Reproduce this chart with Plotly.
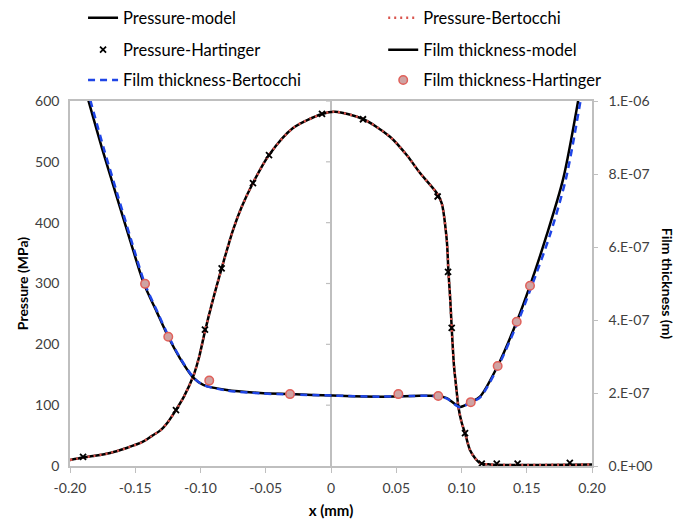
import plotly.graph_objects as go

# ---------------- data ----------------
x_ticks = [-0.20, -0.15, -0.10, -0.05, 0, 0.05, 0.10, 0.15, 0.20]
x_tick_text = ["-0.20", "-0.15", "-0.10", "-0.05", "0", "0.05", "0.10", "0.15", "0.20"]
p_ticks = [0, 100, 200, 300, 400, 500, 600]
h_ticks = [0, 2e-7, 4e-7, 6e-7, 8e-7, 1e-6]
h_tick_text = ["0.E+00", "2.E-07", "4.E-07", "6.E-07", "8.E-07", "1.E-06"]

# Pressure (MPa) - model
p_model_x = [-0.2000, -0.1900, -0.1824, -0.1693, -0.1566, -0.1441, -0.1372, -0.1310,
             -0.1249, -0.1188, -0.1126, -0.1055, -0.1011, -0.0966, -0.0904, -0.0838,
             -0.0751, -0.0684, -0.0598, -0.0475, -0.0291, -0.0069, 0.0031, 0.0245,
             0.0452, 0.0580, 0.0682, 0.0810, 0.0848, 0.0887, 0.0900, 0.0914, 0.0925,
             0.0943, 0.0962, 0.0976, 0.1000, 0.1027, 0.1065, 0.1103, 0.1142, 0.1218,
             0.2000]
p_model_y = [9.9, 14.0, 16.4, 21.4, 29.6, 39.9, 49.6, 58.1,
             72.5, 92.1, 114.4, 147.9, 178.8, 221.3, 273.9, 325.0,
             387.9, 426.2, 465.2, 511.2, 555.6, 578.6, 582.4, 570.4,
             541.3, 511.2, 481.6, 448.8, 432.3, 371.5, 318.9, 272.9, 226.8,
             163.2, 124.9, 97.5, 72.3, 54.2, 26.3, 13.2, 4.9, 2.5,
             2.5]

# Pressure - Bertocchi (lies on top of the model curve)
p_bert_x = [-0.2000, -0.1900, -0.1824, -0.1693, -0.1566, -0.1441, -0.1372, -0.1310,
            -0.1249, -0.1188, -0.1126, -0.1055, -0.1011, -0.0966, -0.0904, -0.0838,
            -0.0751, -0.0684, -0.0598, -0.0475, -0.0291, -0.0069, 0.0031, 0.0245,
            0.0452, 0.0580, 0.0682, 0.0810, 0.0848, 0.0887, 0.0900, 0.0914, 0.0925,
            0.0943, 0.0962, 0.0976, 0.1000, 0.1027, 0.1065, 0.1103, 0.1142, 0.1218,
            0.2000]
p_bert_y = [9.9, 14.0, 16.4, 21.4, 29.6, 39.9, 49.6, 58.1,
            72.5, 92.1, 114.4, 147.9, 178.8, 221.3, 273.9, 325.0,
            387.9, 426.2, 465.2, 511.2, 555.6, 578.6, 582.4, 570.4,
            541.3, 511.2, 481.6, 448.8, 432.3, 371.5, 318.9, 272.9, 226.8,
            163.2, 124.9, 97.5, 72.3, 54.2, 26.3, 13.2, 4.9, 2.5,
            2.5]

# Pressure - Hartinger (markers)
p_hart_x = [-0.190, -0.1188, -0.0966, -0.0838, -0.0598, -0.0475, -0.0069, 0.0245,
            0.0817, 0.0897, 0.0925, 0.1027, 0.1155, 0.127, 0.143, 0.183]
p_hart_y = [15, 92, 224, 325, 465, 511, 579, 570,
            443, 319, 227, 54, 4, 4, 4, 5]

# Film thickness (m) - model
h_model_x = [-0.1860, -0.1755, -0.1648, -0.1540, -0.1433, -0.1336, -0.1247, -0.1157,
             -0.1055, -0.0979, -0.0799, -0.0544, -0.0314, 0.0015, 0.0375, 0.0628,
             0.0822, 0.0887, 0.0989, 0.1071, 0.1142, 0.1277, 0.1423, 0.1525, 0.1653,
             0.1780, 0.1895]
h_model_y = [10.03e-7, 8.71e-7, 7.45e-7, 6.19e-7, 4.99e-7, 4.23e-7, 3.54e-7, 2.95e-7,
             2.42e-7, 2.22e-7, 2.08e-7, 2.00e-7, 1.97e-7, 1.93e-7, 1.90e-7, 1.92e-7,
             1.92e-7, 1.86e-7, 1.62e-7, 1.75e-7, 1.90e-7, 2.74e-7, 3.95e-7, 4.94e-7,
             6.33e-7, 7.88e-7, 10.03e-7]

# Film thickness - Bertocchi
h_bert_x = [-0.1845, -0.1742, -0.1637, -0.1531, -0.1426, -0.1331, -0.1243, -0.1154,
            -0.1053, -0.0978, -0.0799, -0.0544, -0.0314, 0.0015, 0.0375, 0.0628,
            0.0822, 0.0887, 0.0989, 0.1071, 0.1145, 0.1280, 0.1430, 0.1537, 0.1678,
            0.1801, 0.1913]
h_bert_y = [10.03e-7, 8.71e-7, 7.45e-7, 6.19e-7, 4.99e-7, 4.23e-7, 3.54e-7, 2.95e-7,
            2.42e-7, 2.22e-7, 2.07e-7, 1.99e-7, 1.96e-7, 1.93e-7, 1.90e-7, 1.92e-7,
            1.91e-7, 1.85e-7, 1.61e-7, 1.74e-7, 1.89e-7, 2.72e-7, 3.93e-7, 4.92e-7,
            6.33e-7, 7.88e-7, 10.03e-7]

# Film thickness - Hartinger (markers)
h_hart_x = [-0.1425, -0.1247, -0.0933, -0.0314, 0.0516, 0.0822, 0.1071, 0.1277, 0.1423, 0.1525]
h_hart_y = [4.99e-7, 3.54e-7, 2.34e-7, 1.97e-7, 1.97e-7, 1.92e-7, 1.75e-7, 2.74e-7, 3.95e-7, 4.94e-7]

# ---------------- figure ----------------
FONT = "Lato"
fig = go.Figure()

fig.add_trace(go.Scatter(x=p_model_x, y=p_model_y, name="Pressure-model", mode="lines",
                         line=dict(color="black", width=2.5, shape="spline", smoothing=0.8),
                         legend="legend"))
fig.add_trace(go.Scatter(x=p_bert_x, y=p_bert_y, name="Pressure-Bertocchi", mode="lines",
                         line=dict(color="#d9544d", width=2.5, dash="2px,4px", shape="spline", smoothing=0.8),
                         legend="legend2"))
fig.add_trace(go.Scatter(x=p_hart_x, y=p_hart_y, name="Pressure-Hartinger", mode="markers",
                         marker=dict(symbol="x-thin", size=6, line=dict(color="black", width=1.8)),
                         legend="legend3"))
fig.add_trace(go.Scatter(x=h_model_x, y=h_model_y, name="Film thickness-model", mode="lines",
                         yaxis="y2",
                         line=dict(color="black", width=2.5, shape="spline", smoothing=0.8),
                         legend="legend4"))
fig.add_trace(go.Scatter(x=h_bert_x, y=h_bert_y, name="Film thickness-Bertocchi", mode="lines",
                         yaxis="y2",
                         line=dict(color="#1f45e6", width=2.5, dash="7px,5px", shape="spline", smoothing=0.8),
                         legend="legend5"))
fig.add_trace(go.Scatter(x=h_hart_x, y=h_hart_y, name="Film thickness-Hartinger", mode="markers",
                         yaxis="y2",
                         marker=dict(symbol="circle", size=8.5, color="#cfa3a3",
                                     line=dict(color="#e0605a", width=1.5)),
                         legend="legend6"))

# small tick marks on the vertical axis line at x = 0
for t in p_ticks[1:]:
    fig.add_shape(type="line", xref="x", yref="y", xsizemode="pixel", xanchor=0,
                  x0=-5, x1=0, y0=t, y1=t, line=dict(color="#bfbfbf", width=1.2), layer="below")

def leg(x, y):
    return dict(x=x, y=y, orientation="h", xanchor="left", yanchor="middle",
                font=dict(family=FONT, size=16.5, color="black"),
                bgcolor="rgba(0,0,0,0)", itemclick=False, itemdoubleclick=False)

col1, col2 = 0.025, 0.600
row1, row2, row3 = 1.227, 1.140, 1.057

fig.update_layout(
    width=683, height=519,
    margin=dict(l=70, r=91, t=101, b=53, autoexpand=False),
    paper_bgcolor="white", plot_bgcolor="white",
    font=dict(family=FONT, size=13, color="#595959"),
    showlegend=True,
    legend=leg(col1, row1), legend2=leg(col2, row1),
    legend3=leg(col1, row2), legend4=leg(col2, row2),
    legend5=leg(col1, row3), legend6=leg(col2, row3),
    xaxis=dict(range=[-0.2, 0.2], tickvals=x_ticks, ticktext=x_tick_text,
               ticks="outside", ticklen=5, tickcolor="#bfbfbf", ticklabelstandoff=3,
               showgrid=False, zeroline=True, zerolinecolor="#bfbfbf", zerolinewidth=1.5,
               showline=True, linecolor="#bfbfbf", linewidth=1.5, mirror=True,
               tickfont=dict(family=FONT, size=14, color="#404040"),
               title=dict(text="<b>x (mm)</b>", font=dict(family=FONT, size=15, color="black"),
                          standoff=12)),
    yaxis=dict(range=[0, 600], tickvals=p_ticks, ticks="", showgrid=False, zeroline=False,
               showline=True, linecolor="#bfbfbf", linewidth=1.5, mirror=True,
               ticklabelstandoff=6,
               tickfont=dict(family=FONT, size=14, color="#404040"),
               title=dict(text="<b>Pressure (MPa)</b>", font=dict(family=FONT, size=14, color="black"),
                          standoff=3)),
    yaxis2=dict(range=[0, 1e-6], overlaying="y", side="right", tickvals=h_ticks,
                ticktext=h_tick_text, ticks="outside", ticklen=4, tickcolor="#bfbfbf",
                ticklabelstandoff=8,
                showgrid=False, zeroline=False, showline=True, linecolor="#bfbfbf", linewidth=1.5,
                tickfont=dict(family=FONT, size=14, color="#404040")),
    annotations=[dict(text="<b>Film thickness (m)</b>", xref="paper", yref="paper",
                      x=1.145, y=0.5, xanchor="center", yanchor="middle", textangle=90,
                      showarrow=False, font=dict(family=FONT, size=14, color="black"))],
)

fig.write_html("out.html")
